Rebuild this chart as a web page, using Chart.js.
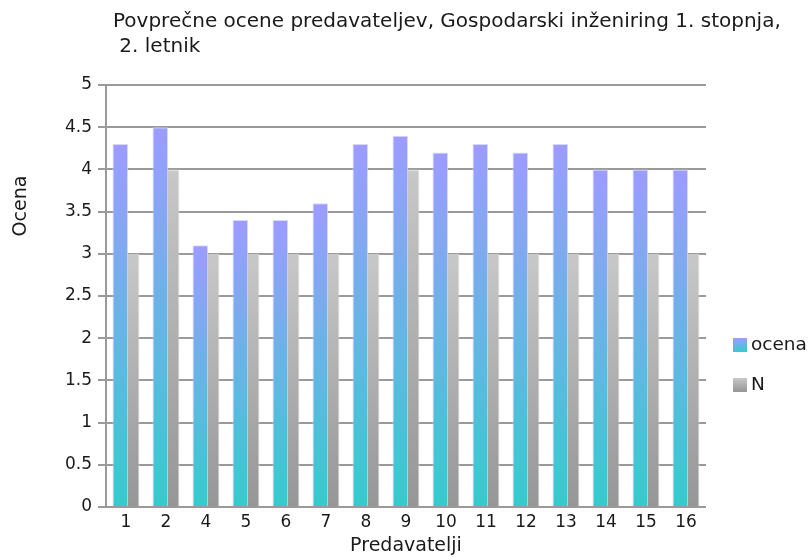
<!DOCTYPE html>
<html>
<head>
<meta charset="utf-8">
<script src="https://cdn.jsdelivr.net/npm/chart.js@4.4.0/dist/chart.umd.min.js"></script>
<style>
  html, body { margin: 0; padding: 0; background: #fff; }
  #wrap { width: 811px; height: 557px; }
</style>
</head>
<body>
<div id="wrap"><canvas id="c"></canvas></div>
<script>
// data
const titleLines = ['Povprečne ocene predavateljev, Gospodarski inženiring 1. stopnja,', ' 2. letnik'];
const predavatelji = ['1', '2', '4', '5', '6', '7', '8', '9', '10', '11', '12', '13', '14', '15', '16'];
const ocena = [4.3, 4.5, 3.1, 3.4, 3.4, 3.6, 4.3, 4.4, 4.2, 4.3, 4.2, 4.3, 4.0, 4.0, 4.0];
const nValues = [3, 4, 3, 3, 3, 3, 3, 4, 3, 3, 3, 3, 3, 3, 3];
const yTicks = [0, 0.5, 1, 1.5, 2, 2.5, 3, 3.5, 4, 4.5, 5];

const FONT = 'DejaVu Sans';

// each bar gets its own vertical gradient, top colour -> bottom colour
function barGradient(topCol, botCol) {
  return (ctx) => {
    const chart = ctx.chart;
    const y = chart.scales.y;
    if (!chart.chartArea || !y || ctx.raw == null) return topCol;
    const yTop = y.getPixelForValue(ctx.raw);
    const yBot = y.getPixelForValue(0);
    const g = chart.ctx.createLinearGradient(0, yTop, 0, yBot);
    g.addColorStop(0, topCol);
    g.addColorStop(1, botCol);
    return g;
  };
}

const legendItems = [
  { label: 'ocena', top: '#9d9cff', bot: '#33cccc' },
  { label: 'N', top: '#c8c8c8', bot: '#969696' }
];

// title, y title and legend drawn by hand so they sit where the original has them
const extras = {
  id: 'extras',
  afterDraw(chart) {
    const c = chart.ctx;
    c.save();
    c.fillStyle = '#1a1a1a';
    c.font = '20px "' + FONT + '"';
    c.textBaseline = 'middle';
    c.textAlign = 'left';
    c.fillText(titleLines[0], 113, 22);
    c.fillText(titleLines[1], 113, 47);

    c.save();
    c.translate(21, 206);
    c.rotate(-Math.PI / 2);
    c.textAlign = 'center';
    c.font = '19px "' + FONT + '"';
    c.fillText('Ocena', 0, 0);
    c.restore();

    c.font = '18.5px "' + FONT + '"';
    legendItems.forEach((it, i) => {
      const cy = 345 + i * 40;
      const g = c.createLinearGradient(0, cy - 7, 0, cy + 7);
      g.addColorStop(0, it.top);
      g.addColorStop(1, it.bot);
      c.fillStyle = g;
      c.fillRect(733, cy - 7, 14, 14);
      c.fillStyle = '#1a1a1a';
      c.fillText(it.label, 751, cy);
    });
    c.restore();
  }
};

new Chart(document.getElementById('c'), {
  type: 'bar',
  data: {
    labels: predavatelji,
    datasets: [
      {
        label: 'ocena',
        data: ocena,
        backgroundColor: barGradient('#9d9cff', '#33cccc'),
        borderColor: 'rgba(205,205,255,0.8)',
        borderWidth: { top: 1, left: 1, right: 1, bottom: 0 },
        barPercentage: 1.35,
        categoryPercentage: 0.575
      },
      {
        label: 'N',
        data: nValues,
        backgroundColor: barGradient('#c8c8c8', '#969696'),
        borderColor: 'rgba(225,225,225,0.8)',
        borderWidth: { top: 1, left: 1, right: 1, bottom: 0 },
        barPercentage: 1.35,
        categoryPercentage: 0.575
      }
    ]
  },
  options: {
    responsive: true,
    maintainAspectRatio: false,
    animation: false,
    layout: { padding: { top: 85, left: 46, right: 105, bottom: 0 } },
    plugins: {
      legend: { display: false },
      title: { display: false },
      tooltip: { enabled: false }
    },
    scales: {
      x: {
        grid: { display: false, drawTicks: false },
        border: { display: false },
        ticks: { color: '#1a1a1a', font: { family: FONT, size: 17 }, padding: 5, maxRotation: 0, autoSkip: false },
        title: { display: true, text: 'Predavatelji', color: '#1a1a1a', font: { family: FONT, size: 19 }, padding: 0 },
        afterFit: (s) => { s.height = 50; }
      },
      y: {
        min: 0,
        max: 5,
        afterBuildTicks: (s) => { s.ticks = yTicks.map(v => ({ value: v })); },
        grid: { color: '#9a9a9a', lineWidth: 2, tickLength: 8 },
        border: { display: true, color: '#9a9a9a', width: 2 },
        ticks: { color: '#1a1a1a', font: { family: FONT, size: 17 }, padding: 6, callback: (v) => String(v) },
        afterFit: (s) => { s.width = 60; }
      }
    }
  },
  plugins: [extras]
});
</script>
</body>
</html>
